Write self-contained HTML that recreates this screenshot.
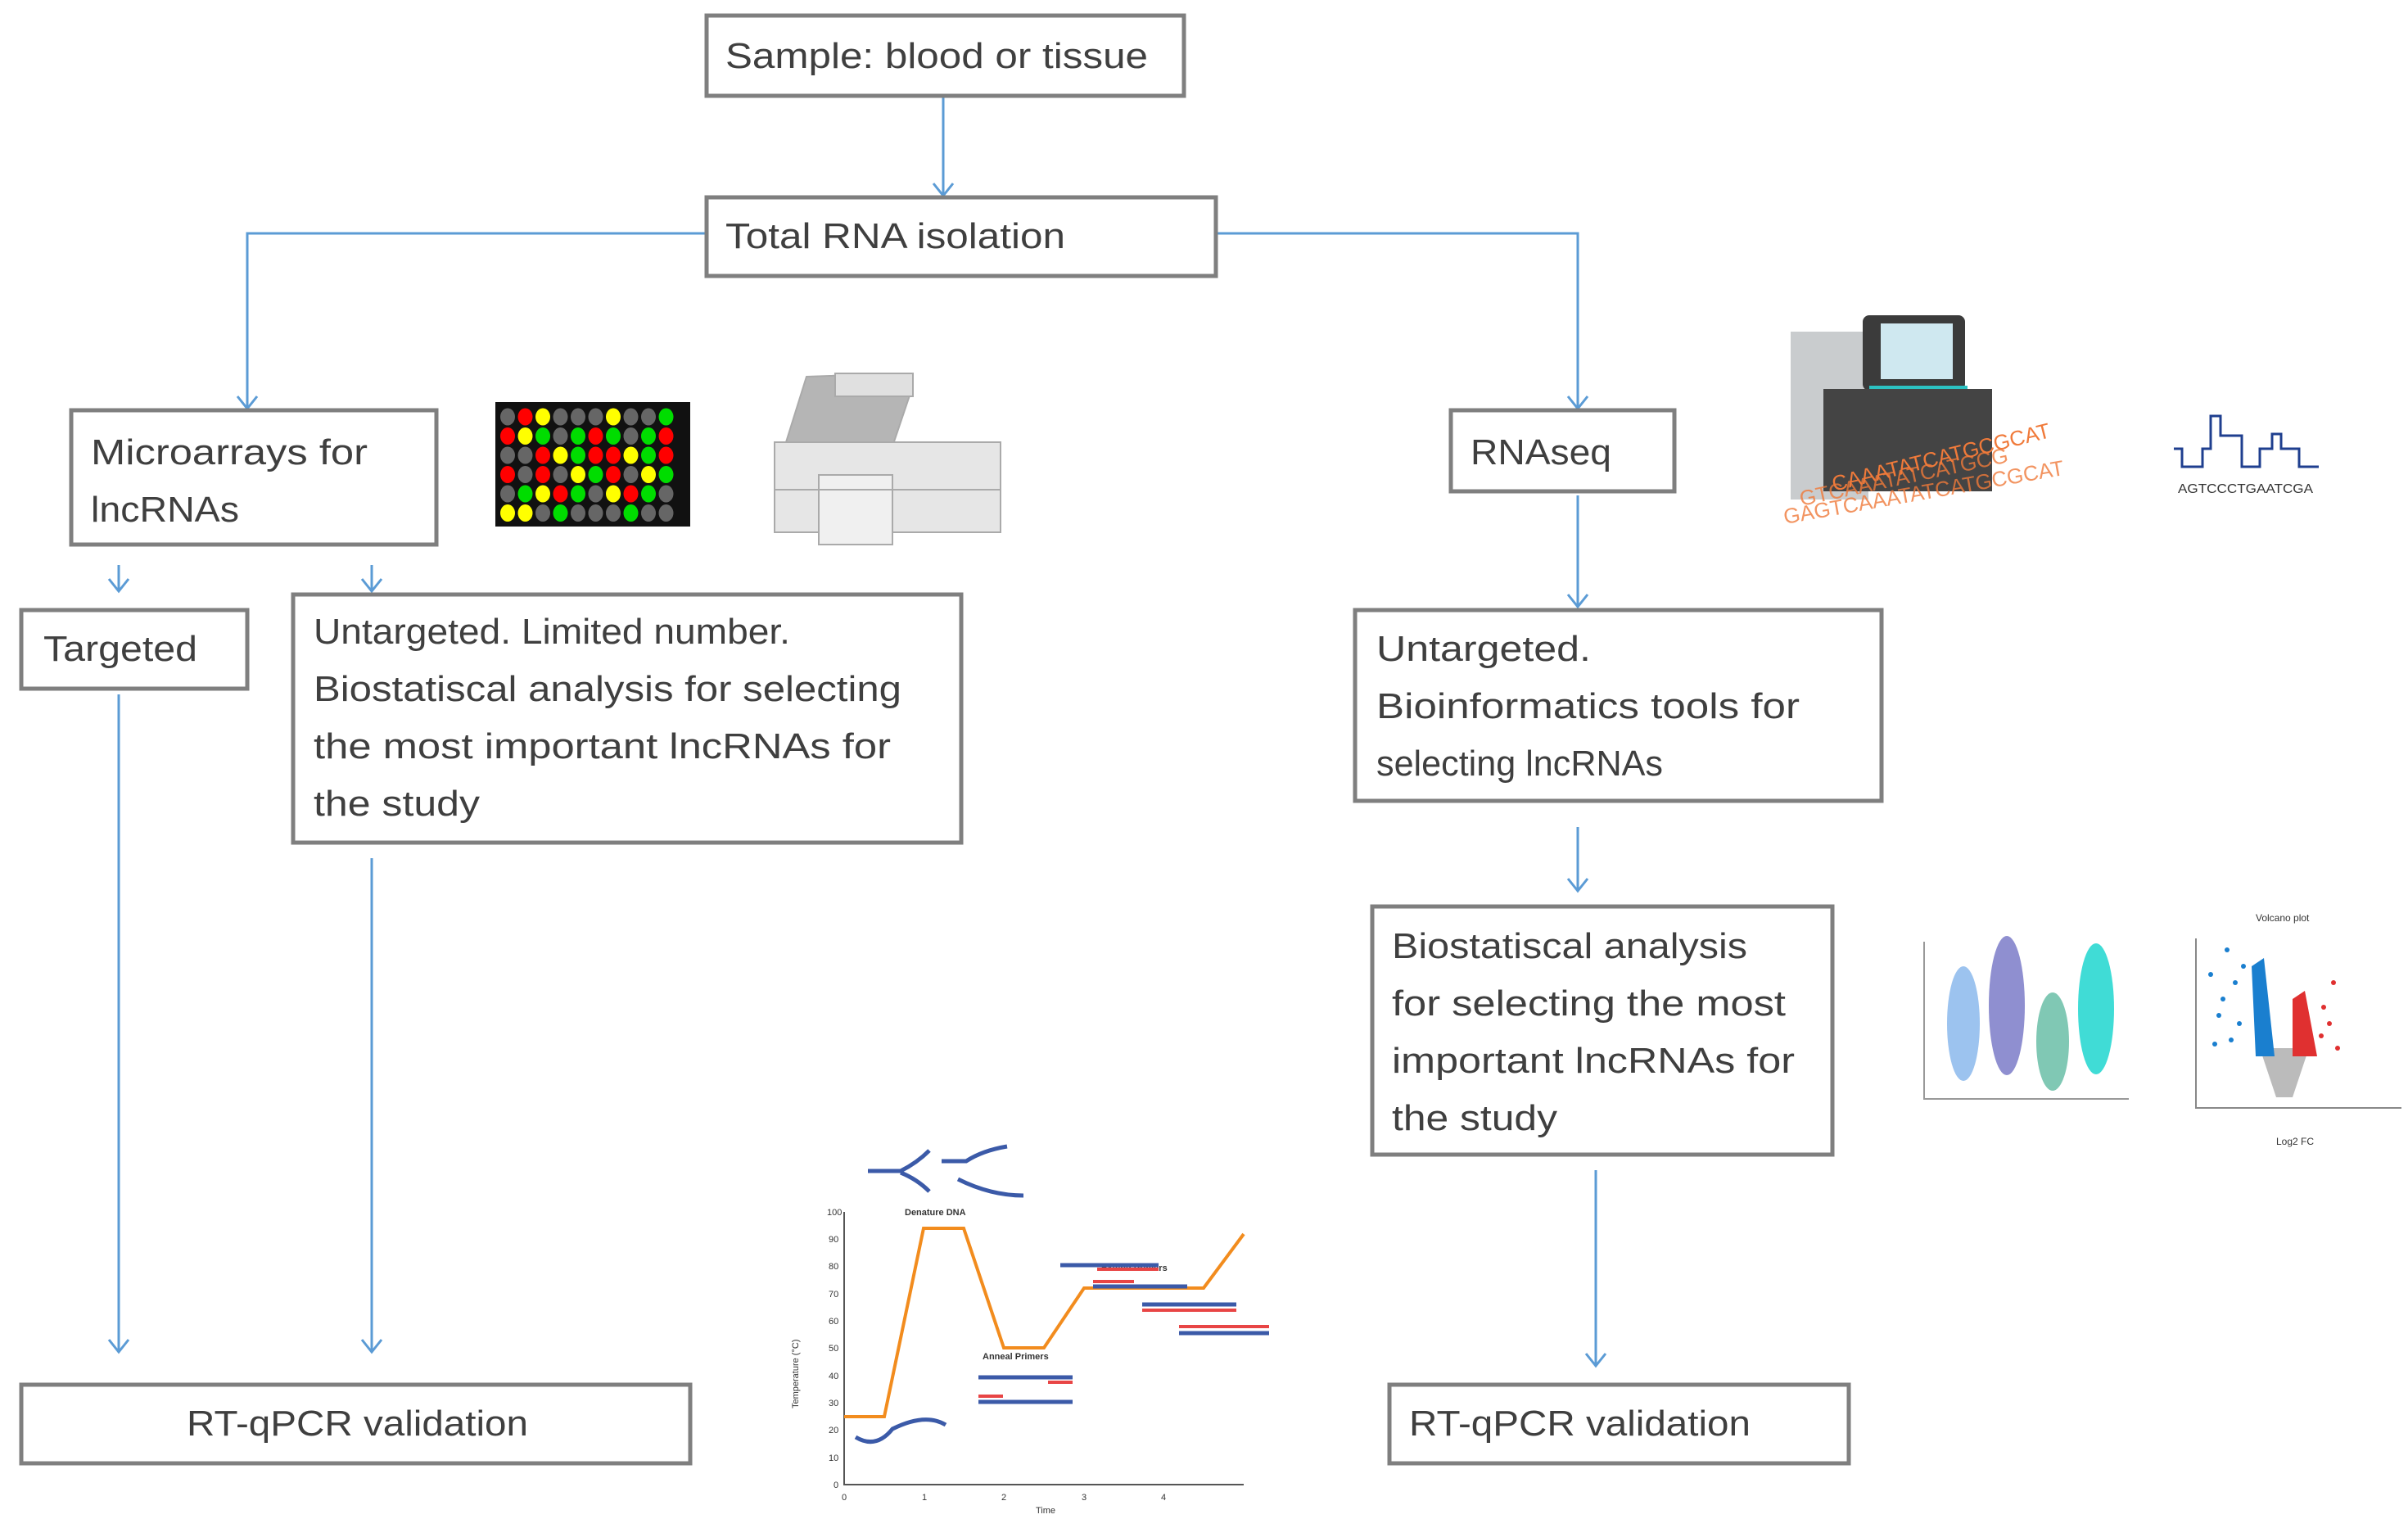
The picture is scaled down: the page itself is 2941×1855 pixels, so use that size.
<!DOCTYPE html>
<html><head><meta charset="utf-8"><style>
html,body{margin:0;padding:0;background:#fff}
svg{display:block}
.t{font-family:"Liberation Sans",sans-serif;font-size:44px;fill:#3f3f3f}
.b{fill:#fff;stroke:#7f7f7f;stroke-width:5}
.l{stroke:#5b9bd5;stroke-width:3;fill:none}
.s{font-family:"Liberation Sans",sans-serif;fill:#333}
</style></head><body>
<svg width="2941" height="1855" viewBox="0 0 2941 1855" xmlns="http://www.w3.org/2000/svg">
<g class="l">
<path d="M1152 117V239"/><path d="M1140 224l12 15 12-15"/>
<path d="M863 285H302V499"/><path d="M290 484l12 15 12-15"/>
<path d="M1485 285H1927V499"/><path d="M1915 484l12 15 12-15"/>
<path d="M145 690V722"/><path d="M133 707l12 15 12-15"/>
<path d="M454 690V722"/><path d="M442 707l12 15 12-15"/>
<path d="M145 848V1651"/><path d="M133 1636l12 15 12-15"/>
<path d="M454 1048V1651"/><path d="M442 1636l12 15 12-15"/>
<path d="M1927 605V741"/><path d="M1915 726l12 15 12-15"/>
<path d="M1927 1010V1088"/><path d="M1915 1073l12 15 12-15"/>
<path d="M1949 1429V1668"/><path d="M1937 1653l12 15 12-15"/>
</g>
<rect class="b" x="863" y="19" width="583" height="98"/>
<rect class="b" x="863" y="241" width="622" height="96"/>
<rect class="b" x="87" y="501" width="446" height="164"/>
<rect class="b" x="26" y="745" width="276" height="96"/>
<rect class="b" x="358" y="726" width="816" height="303"/>
<rect class="b" x="26" y="1691" width="817" height="96"/>
<rect class="b" x="1772" y="501" width="273" height="99"/>
<rect class="b" x="1655" y="745" width="643" height="233"/>
<rect class="b" x="1676" y="1107" width="562" height="303"/>
<rect class="b" x="1697" y="1691" width="561" height="96"/>
<g class="t">
<text x="886" y="83" textLength="516" lengthAdjust="spacingAndGlyphs">Sample: blood or tissue</text>
<text x="886" y="303" textLength="415" lengthAdjust="spacingAndGlyphs">Total RNA isolation</text>
<text x="111" y="567" textLength="338" lengthAdjust="spacingAndGlyphs">Microarrays for</text>
<text x="111" y="637" textLength="181" lengthAdjust="spacingAndGlyphs">lncRNAs</text>
<text x="53" y="807" textLength="188" lengthAdjust="spacingAndGlyphs">Targeted</text>
<text x="383" y="786" textLength="582" lengthAdjust="spacingAndGlyphs">Untargeted. Limited number.</text>
<text x="383" y="856" textLength="718" lengthAdjust="spacingAndGlyphs">Biostatiscal analysis for selecting</text>
<text x="383" y="926" textLength="705" lengthAdjust="spacingAndGlyphs">the most important lncRNAs for</text>
<text x="383" y="996" textLength="203" lengthAdjust="spacingAndGlyphs">the study</text>
<text x="228" y="1753" textLength="417" lengthAdjust="spacingAndGlyphs">RT-qPCR validation</text>
<text x="1796" y="567" textLength="172" lengthAdjust="spacingAndGlyphs">RNAseq</text>
<text x="1681" y="807" textLength="262" lengthAdjust="spacingAndGlyphs">Untargeted.</text>
<text x="1681" y="877" textLength="517" lengthAdjust="spacingAndGlyphs">Bioinformatics tools for</text>
<text x="1681" y="947" textLength="350" lengthAdjust="spacingAndGlyphs">selecting lncRNAs</text>
<text x="1700" y="1170" textLength="434" lengthAdjust="spacingAndGlyphs">Biostatiscal analysis</text>
<text x="1700" y="1240" textLength="481" lengthAdjust="spacingAndGlyphs">for selecting the most</text>
<text x="1700" y="1310" textLength="492" lengthAdjust="spacingAndGlyphs">important lncRNAs for</text>
<text x="1700" y="1380" textLength="202" lengthAdjust="spacingAndGlyphs">the study</text>
<text x="1721" y="1753" textLength="417" lengthAdjust="spacingAndGlyphs">RT-qPCR validation</text>
</g>
<rect x="605" y="491" width="238" height="152" fill="#111"/>
<g id="dots"></g>
<g stroke="#aaa" stroke-width="2">
<path d="M960 540 L985 460 L1100 456 L1112 480 L1085 560 Z" fill="#b5b5b5"/>
<rect x="1020" y="456" width="95" height="28" fill="#e0e0e0"/>
<path d="M946 540 H1222 V650 H946 Z" fill="#e6e6e6"/>
<rect x="1000" y="580" width="90" height="85" fill="#f0f0f0"/>
<path d="M946 598 H1222"/>
</g>
<rect x="2187" y="405" width="95" height="205" fill="#c9ccce"/>
<rect x="2275" y="385" width="125" height="92" rx="8" fill="#3b3b3b"/>
<rect x="2297" y="395" width="88" height="68" fill="#cfe8f0"/>
<rect x="2283" y="471" width="120" height="5" fill="#2cc1c1"/>
<rect x="2227" y="475" width="206" height="125" fill="#444"/>
<g font-family="Liberation Sans,sans-serif" fill="#f07a3a" font-size="26">
<text x="2240" y="600" transform="rotate(-14 2240 600)">CAAATATCATGCGCAT</text>
<text x="2200" y="618" transform="rotate(-12 2200 618)" opacity=".8">GTCAAATATCATGCG</text>
<text x="2180" y="640" transform="rotate(-10 2180 640)" opacity=".8">GAGTCAAATATCATGCGCAT</text>
</g>
<path d="M2655 548H2665V570H2690V548H2700V508H2712V532H2738V570H2760V548H2775V530H2786V548H2808V570H2832" fill="none" stroke="#1f3f8f" stroke-width="3"/>
<text x="2660" y="602" class="s" font-size="16" textLength="165" lengthAdjust="spacingAndGlyphs">AGTCCCTGAATCGA</text>
<path d="M2350 1150V1342H2600" stroke="#999" stroke-width="2" fill="none"/>
<ellipse cx="2398" cy="1250" rx="20" ry="70" fill="#9cc3ef"/>
<ellipse cx="2451" cy="1228" rx="22" ry="85" fill="#8f8fd0"/>
<ellipse cx="2507" cy="1272" rx="20" ry="60" fill="#80c8b4"/>
<ellipse cx="2560" cy="1232" rx="22" ry="80" fill="#40dcd6"/>
<text x="2755" y="1125" class="s" font-size="12">Volcano plot</text>
<path d="M2682 1146V1353H2933" stroke="#888" stroke-width="2" fill="none"/>
<path d="M2760 1280L2780 1340H2800L2820 1280Z" fill="#bbb"/>
<path d="M2750 1180L2765 1170L2778 1290L2755 1290Z" fill="#1a7fcf"/>
<path d="M2800 1220L2815 1210L2830 1290L2800 1290Z" fill="#e03030"/>
<g fill="#1a7fcf"><circle cx="2700" cy="1190" r="3"/><circle cx="2710" cy="1240" r="3"/><circle cx="2705" cy="1275" r="3"/><circle cx="2720" cy="1160" r="3"/><circle cx="2715" cy="1220" r="3"/><circle cx="2730" cy="1200" r="3"/><circle cx="2735" cy="1250" r="3"/><circle cx="2740" cy="1180" r="3"/><circle cx="2725" cy="1270" r="3"/></g>
<g fill="#e03030"><circle cx="2850" cy="1200" r="3"/><circle cx="2845" cy="1250" r="3"/><circle cx="2855" cy="1280" r="3"/><circle cx="2838" cy="1230" r="3"/><circle cx="2835" cy="1265" r="3"/></g>
<text x="2780" y="1398" class="s" font-size="12">Log2 FC</text>
<g stroke="#555" stroke-width="2" fill="none"><path d="M1031 1480V1813H1519"/></g>
<g class="s" font-size="11">
<text x="1010" y="1484">100</text><text x="1012" y="1517">90</text><text x="1012" y="1550">80</text><text x="1012" y="1584">70</text><text x="1012" y="1617">60</text><text x="1012" y="1650">50</text><text x="1012" y="1684">40</text><text x="1012" y="1717">30</text><text x="1012" y="1750">20</text><text x="1012" y="1784">10</text><text x="1018" y="1817">0</text>
<text x="1028" y="1832">0</text><text x="1126" y="1832">1</text><text x="1223" y="1832">2</text><text x="1321" y="1832">3</text><text x="1418" y="1832">4</text>
<text x="1265" y="1848">Time</text>
<text x="1105" y="1484" font-weight="bold">Denature DNA</text>
<text x="1200" y="1660" font-weight="bold">Anneal Primers</text>
<text x="1345" y="1552" font-weight="bold">Extend Primers</text>
<text x="975" y="1720" transform="rotate(-90 975 1720)">Temperature (°C)</text>
</g>
<path d="M1031 1730H1080L1128 1500H1177L1226 1646H1275L1324 1573H1470L1519 1507" stroke="#f28c1e" stroke-width="4" fill="none"/>
<g stroke="#3b5aa8" stroke-width="5" fill="none">
<path d="M1060 1430H1100Q1120 1420 1135 1405M1100 1432Q1120 1440 1135 1455M1150 1418H1180Q1200 1405 1230 1400M1170 1440Q1210 1460 1250 1460"/>
<path d="M1045 1755Q1070 1770 1090 1745Q1130 1725 1155 1740"/>
<path d="M1195 1682H1310M1195 1712H1310M1295 1545H1415M1335 1571H1450M1395 1593H1510M1440 1628H1550"/>
</g>
<g stroke="#e84545" stroke-width="4"><path d="M1280 1688H1310M1195 1705H1225M1340 1550H1415M1335 1565H1385M1395 1600H1510M1440 1620H1550"/></g>
</svg>
<script>
var rows=["grygggyggG","ryGgGrGgGr","ggryGrryGr","rgrgyGrgyG","gGyrGgyrGg","yygGgggGgg"],c={g:"#666",r:"#f00",y:"#ff0",G:"#0d0"},s="";
for(var i=0;i<6;i++)for(var j=0;j<10;j++)s+='<ellipse cx="'+(620+j*21.5)+'" cy="'+(509+i*23.5)+'" rx="9" ry="10.5" fill="'+c[rows[i][j]]+'"/>';
document.getElementById("dots").innerHTML=s;
</script>
</body></html>
